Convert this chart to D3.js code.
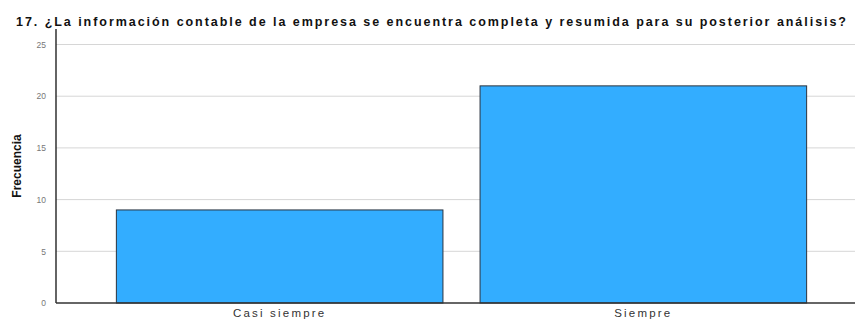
<!DOCTYPE html>
<html>
<head>
<meta charset="utf-8">
<script src="https://cdn.jsdelivr.net/npm/d3@7"></script>
<style>
  body { margin: 0; background: #fff; }
  text { font-family: "Liberation Sans", Arial, sans-serif; }
</style>
</head>
<body>
<svg></svg>
<script>
let categories = ["Casi siempre", "Siempre"];
let values = [9, 21];
let yTicks = [0, 5, 10, 15, 20, 25];
let title = "17. ¿La información contable de la empresa se encuentra completa y resumida para su posterior análisis?";
let yLabel = "Frecuencia";

let width = 855;
let height = 321;

// plot area
let plotLeft = 56;
let plotTop = 29;
let plotBottom = 303;

let svg = d3.select("svg").attr("width", width).attr("height", height);

let xScale = d3
  .scaleBand()
  .domain(categories)
  .range([plotLeft, 867])
  .paddingInner(0.102)
  .paddingOuter(0.166);

let yScale = d3.scaleLinear().domain([0, 26.5]).range([plotBottom, plotTop]);

// gridlines
svg
  .append("g")
  .selectAll("line")
  .data(yTicks.filter((d) => d > 0))
  .enter()
  .append("line")
  .attr("x1", plotLeft)
  .attr("x2", width)
  .attr("y1", (d) => yScale(d))
  .attr("y2", (d) => yScale(d))
  .attr("stroke", "#d6d6d6")
  .attr("stroke-width", 1);

// bars
svg
  .selectAll("rect")
  .data(values)
  .enter()
  .append("rect")
  .attr("x", (d, i) => xScale(categories[i]))
  .attr("y", (d) => yScale(d))
  .attr("width", xScale.bandwidth())
  .attr("height", (d) => plotBottom - yScale(d))
  .attr("fill", "#33adff")
  .attr("stroke", "#2b3440")
  .attr("stroke-width", 1);

// y axis
let yAxis = d3.axisLeft(yScale).tickValues(yTicks).tickSize(0).tickPadding(10);
let gy = svg
  .append("g")
  .attr("transform", "translate(" + plotLeft + ",0)")
  .call(yAxis);
gy.select(".domain").remove();
gy.selectAll("text")
  .attr("fill", "#777")
  .style("font-size", "8.5px");

// x axis
let xAxis = d3.axisBottom(xScale).tickSize(0).tickPadding(6);
let gx = svg
  .append("g")
  .attr("transform", "translate(0," + plotBottom + ")")
  .call(xAxis);
gx.select(".domain").remove();
gx.selectAll("text")
  .attr("fill", "#333")
  .style("font-size", "11.5px")
  .style("letter-spacing", "2.2px");

// axis lines
svg.append("line")
  .attr("x1", plotLeft).attr("x2", plotLeft)
  .attr("y1", plotTop).attr("y2", plotBottom)
  .attr("stroke", "#111").attr("stroke-width", 1.3);
svg.append("line")
  .attr("x1", plotLeft).attr("x2", width)
  .attr("y1", plotBottom).attr("y2", plotBottom)
  .attr("stroke", "#333").attr("stroke-width", 1.3);

// title
svg.append("text")
  .attr("x", 16)
  .attr("y", 26)
  .attr("textLength", 830)
  .attr("lengthAdjust", "spacing")
  .style("font-size", "12.5px")
  .style("font-weight", "bold")
  .attr("fill", "#111")
  .text(title);

// y label
svg.append("text")
  .attr("transform", "translate(21,166) rotate(-90)")
  .attr("text-anchor", "middle")
  .style("font-size", "12px")
  .style("font-weight", "bold")
  .attr("fill", "#111")
  .text(yLabel);
</script>
</body>
</html>
